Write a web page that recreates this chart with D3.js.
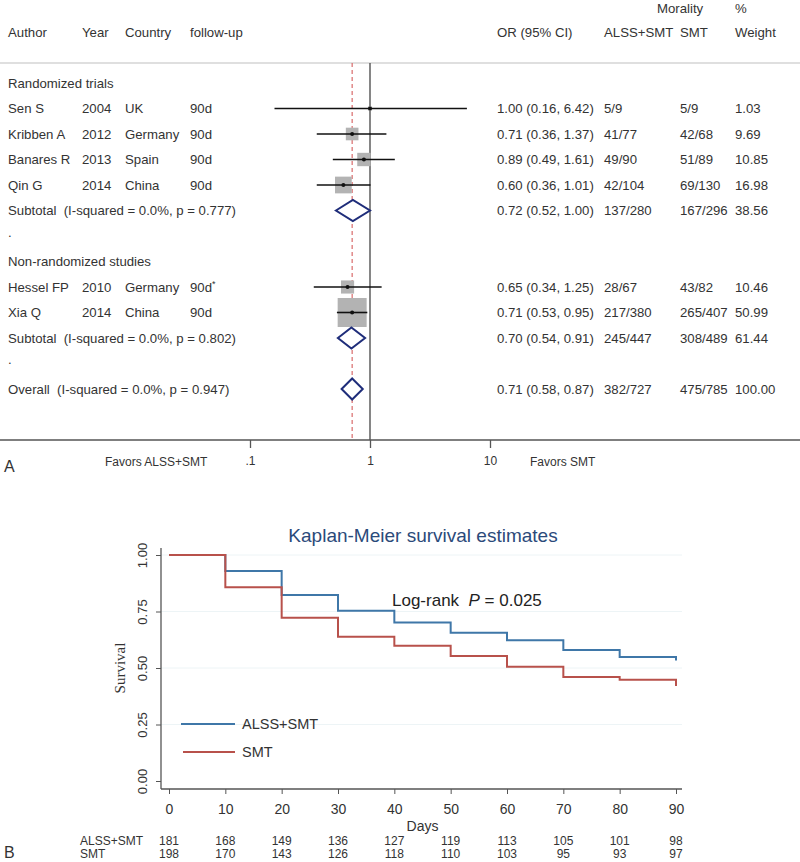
<!DOCTYPE html>
<html><head><meta charset="utf-8">
<script src="https://cdn.jsdelivr.net/npm/d3@7"></script>
<style>body{margin:0;background:#fff}svg{display:block}text{white-space:pre}</style>
</head><body>
<svg id="c" width="800" height="862"></svg>
<script>
// ---------- Forest plot data ----------
const authors   = ["Sen S","Kribben A","Banares R","Qin G","Hessel FP","Xia Q"];
const years     = ["2004","2012","2013","2014","2010","2014"];
const countries = ["UK","Germany","Spain","China","Germany","China"];
const followup  = ["90d","90d","90d","90d","90d","90d"];
const orVals    = [1.00,0.71,0.89,0.60,0.65,0.71];
const orLo      = [0.16,0.36,0.49,0.36,0.34,0.53];
const orHi      = [6.42,1.37,1.61,1.01,1.25,0.95];
const orText    = ["1.00 (0.16, 6.42)","0.71 (0.36, 1.37)","0.89 (0.49, 1.61)","0.60 (0.36, 1.01)","0.65 (0.34, 1.25)","0.71 (0.53, 0.95)"];
const alssEv    = ["5/9","41/77","49/90","42/104","28/67","217/380"];
const smtEv     = ["5/9","42/68","51/89","69/130","43/82","265/407"];
const weights   = [1.03,9.69,10.85,16.98,10.46,50.99];
const groupNames = ["Randomized trials","Non-randomized studies"];
const subLabels = ["Subtotal  (I-squared = 0.0%, p = 0.777)","Subtotal  (I-squared = 0.0%, p = 0.802)","Overall  (I-squared = 0.0%, p = 0.947)"];
const subOR     = [0.72,0.70,0.71];
const subLo     = [0.52,0.54,0.58];
const subHi     = [1.00,0.91,0.87];
const subText   = ["0.72 (0.52, 1.00)","0.70 (0.54, 0.91)","0.71 (0.58, 0.87)"];
const subAlss   = ["137/280","245/447","382/727"];
const subSmt    = ["167/296","308/489","475/785"];
const subW      = ["38.56","61.44","100.00"];
const axisTicks = [0.1,1,10];
const axisTickLabels = [".1","1","10"];

// ---------- KM data ----------
const kmDays = [0,10,20,30,40,50,60,70,80,90];
const kmAlss = [1.00,0.929,0.823,0.753,0.701,0.656,0.623,0.580,0.549,0.533];
const kmSmt  = [1.00,0.857,0.722,0.638,0.598,0.553,0.505,0.460,0.448,0.420];
const riskAlss = [181,168,149,136,127,119,113,105,101,98];
const riskSmt  = [198,170,143,126,118,110,103,95,93,97];
const kmYTicks = [0,0.25,0.5,0.75,1];

const svg = d3.select("#c");
const FONT = "'Liberation Sans', Arial, sans-serif";
const TXT = "#333";

// ================= PANEL A =================
const xF = d3.scaleLog().domain([0.1,10]).range([250,490]);
const rowY = d3.scaleLinear().domain([0,12]).range([83,389]);
const A = svg.append("g").attr("font-family",FONT).attr("font-size",13.2).attr("fill",TXT);

function txt(g,x,y,s,anchor){ return g.append("text").attr("x",x).attr("y",y+4.5).attr("text-anchor",anchor||"start").text(s); }

// headers
txt(A,8,32,"Author"); txt(A,82,32,"Year"); txt(A,125,32,"Country"); txt(A,190,32,"follow-up");
txt(A,497,32,"OR (95% CI)"); txt(A,604,32,"ALSS+SMT"); txt(A,680,32,"SMT"); txt(A,735,32,"Weight");
txt(A,657,8,"Morality"); txt(A,735,8,"%");
A.append("line").attr("x1",0).attr("x2",800).attr("y1",63).attr("y2",63).attr("stroke","#d4d4d4").attr("stroke-width",1.5);

// reference lines
A.append("line").attr("x1",xF(1)).attr("x2",xF(1)).attr("y1",63).attr("y2",440).attr("stroke","#444").attr("stroke-width",1.3);
A.append("line").attr("x1",xF(subOR[2])).attr("x2",xF(subOR[2])).attr("y1",63).attr("y2",440)
  .attr("stroke","#d96b6b").attr("stroke-width",1.2).attr("stroke-dasharray","4,3");

// rows
const studyRow = [1,2,3,4,8,9];
const groupRow = [0,7];
const subRow = [5,10,12];
const dotRow = [6,11];
groupRow.forEach((r,i)=>txt(A,8,rowY(r),groupNames[i]));
dotRow.forEach(r=>txt(A,8,rowY(r)-4,"."));

authors.forEach((a,i)=>{
  const y = rowY(studyRow[i]);
  txt(A,8,y,a); txt(A,82,y,years[i]); txt(A,125,y,countries[i]);
  const t = txt(A,190,y,followup[i]);
  if(a==="Hessel FP") t.append("tspan").attr("dy",-5).attr("font-size",9).text("*");
  txt(A,497,y,orText[i]); txt(A,604,y,alssEv[i]); txt(A,680,y,smtEv[i]); txt(A,735,y,weights[i].toFixed(2));
  const s = 4.06*Math.sqrt(weights[i]);
  A.append("rect").attr("x",xF(orVals[i])-s/2).attr("y",y-s/2).attr("width",s).attr("height",s).attr("fill","#b3b3b3");
  A.append("line").attr("x1",xF(orLo[i])).attr("x2",xF(orHi[i])).attr("y1",y).attr("y2",y).attr("stroke","#111").attr("stroke-width",1.6);
  A.append("circle").attr("cx",xF(orVals[i])).attr("cy",y).attr("r",2).attr("fill","#111");
});

subLabels.forEach((l,i)=>{
  const y = rowY(subRow[i]);
  txt(A,8,y,l); txt(A,497,y,subText[i]); txt(A,604,y,subAlss[i]); txt(A,680,y,subSmt[i]); txt(A,735,y,subW[i]);
  const h = 10.5;
  A.append("path").attr("d",`M${xF(subLo[i])},${y}L${xF(subOR[i])},${y-h}L${xF(subHi[i])},${y}L${xF(subOR[i])},${y+h}Z`)
    .attr("fill","#fff").attr("stroke","#1f2d7a").attr("stroke-width",2);
});

// axis
A.append("line").attr("x1",0).attr("x2",800).attr("y1",440).attr("y2",440).attr("stroke","#555").attr("stroke-width",1.3);
const axF = d3.axisBottom(xF).tickValues(axisTicks).tickFormat((d,i)=>axisTickLabels[i]).tickSize(8).tickPadding(8);
const axG = A.append("g").attr("transform","translate(0,440)").call(axF);
axG.select(".domain").remove();
axG.selectAll(".tick line").attr("stroke","#555").attr("stroke-width",1.3);
axG.selectAll(".tick text").attr("font-family",FONT).attr("font-size",12).attr("fill",TXT);
A.append("text").attr("x",105).attr("y",466).attr("font-size",12).text("Favors ALSS+SMT");
A.append("text").attr("x",530).attr("y",466).attr("font-size",12).text("Favors SMT");
A.append("text").attr("x",4).attr("y",472).attr("font-size",16).text("A");

// ================= PANEL B =================
const xK = d3.scaleLinear().domain([0,90]).range([169,676]);
const yK = d3.scaleLinear().domain([0,1]).range([781,555]);
const B = svg.append("g").attr("font-family",FONT).attr("fill",TXT);

B.append("text").attr("x",423).attr("y",542).attr("text-anchor","middle").attr("font-size",19).attr("fill","#2b4a7a").text("Kaplan-Meier survival estimates");

// gridlines
kmYTicks.filter(v=>v>0).forEach(v=>{
  B.append("line").attr("x1",161).attr("x2",682).attr("y1",yK(v)).attr("y2",yK(v)).attr("stroke","#edf4f6").attr("stroke-width",1);
});
// y axis
const ayG = B.append("g").attr("transform","translate(161,0)")
  .call(d3.axisLeft(yK).tickValues(kmYTicks).tickFormat(d3.format(".2f")).tickSize(5).tickSizeOuter(0));
ayG.select(".domain").attr("d",`M0,548V789`).attr("stroke","#555").attr("stroke-width",1.3);
ayG.selectAll(".tick line").attr("stroke","#555");
ayG.selectAll(".tick text").attr("font-family",FONT).attr("font-size",13).attr("fill",TXT)
  .attr("x",0).attr("dy",0).attr("text-anchor","middle")
  .attr("transform","translate(-14,0) rotate(-90)");
B.append("text").attr("transform",`translate(125,${yK(0.5)}) rotate(-90)`).attr("text-anchor","middle")
  .attr("font-family","'Liberation Serif','Times New Roman',serif").attr("font-size",15).text("Survival");

// x axis
const axK = B.append("g").attr("transform","translate(0,789)")
  .call(d3.axisBottom(xK).tickValues(kmDays).tickSize(5).tickSizeOuter(0).tickPadding(10));
axK.select(".domain").attr("d","M161,0H682").attr("stroke","#555").attr("stroke-width",1.3);
axK.selectAll(".tick line").attr("stroke","#555");
axK.selectAll(".tick text").attr("font-family",FONT).attr("font-size",14).attr("fill",TXT);
B.append("text").attr("x",xK(45)).attr("y",831).attr("text-anchor","middle").attr("font-size",14).text("Days");

// step curves: horizontal at previous level up to each day, then drop
function kmPath(vals){
  let d = `M${xK(kmDays[0])},${yK(vals[0])}`;
  for(let i=1;i<kmDays.length;i++) d += `H${xK(kmDays[i])}V${yK(vals[i])}`;
  return d;
}
B.append("path").attr("d",kmPath(kmAlss)).attr("fill","none").attr("stroke","#3f77a8").attr("stroke-width",2);
B.append("path").attr("d",kmPath(kmSmt)).attr("fill","none").attr("stroke","#b8514b").attr("stroke-width",2);

// log-rank
const lr = B.append("text").attr("x",392).attr("y",606).attr("font-size",17).attr("fill","#222");
lr.append("tspan").text("Log-rank  ");
lr.append("tspan").attr("font-style","italic").text("P");
lr.append("tspan").text(" = 0.025");

// legend
B.append("line").attr("x1",181).attr("x2",235).attr("y1",724).attr("y2",724).attr("stroke","#3f77a8").attr("stroke-width",2);
B.append("text").attr("x",242).attr("y",729).attr("font-size",14.5).text("ALSS+SMT");
B.append("line").attr("x1",183).attr("x2",235).attr("y1",752).attr("y2",752).attr("stroke","#b8514b").attr("stroke-width",2);
B.append("text").attr("x",242).attr("y",757).attr("font-size",14.5).text("SMT");

// risk table
B.append("text").attr("x",80).attr("y",845).attr("font-size",12).text("ALSS+SMT");
B.append("text").attr("x",80).attr("y",858).attr("font-size",12).text("SMT");
kmDays.forEach((d,i)=>{
  B.append("text").attr("x",xK(d)).attr("y",845).attr("text-anchor","middle").attr("font-size",12).text(riskAlss[i]);
  B.append("text").attr("x",xK(d)).attr("y",858).attr("text-anchor","middle").attr("font-size",12).text(riskSmt[i]);
});
B.append("text").attr("x",4).attr("y",858).attr("font-size",16).text("B");
</script>
</body></html>
